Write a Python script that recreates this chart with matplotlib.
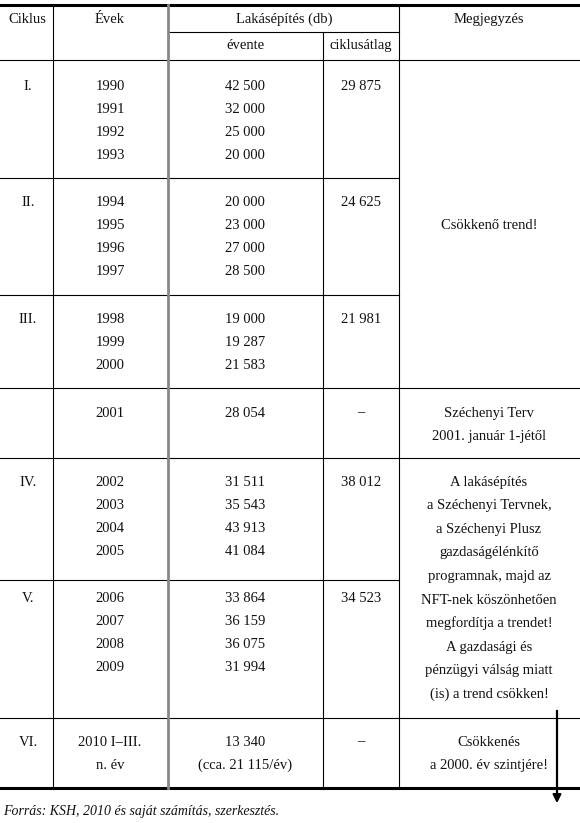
import matplotlib
matplotlib.use("Agg")
from matplotlib import pyplot as plt

plt.rcParams["font.family"] = ["Liberation Serif", "DejaVu Serif"]

cycles = ["I.", "II.", "III.", "", "IV.", "V.", "VI."]
years = [["1990", "1991", "1992", "1993"],
         ["1994", "1995", "1996", "1997"],
         ["1998", "1999", "2000"],
         ["2001"],
         ["2002", "2003", "2004", "2005"],
         ["2006", "2007", "2008", "2009"],
         ["2010 I–III.", "n. év"]]
yearly = [["42 500", "32 000", "25 000", "20 000"],
          ["20 000", "23 000", "27 000", "28 500"],
          ["19 000", "19 287", "21 583"],
          ["28 054"],
          ["31 511", "35 543", "43 913", "41 084"],
          ["33 864", "36 159", "36 075", "31 994"],
          ["13 340", "(cca. 21 115/év)"]]
averages = ["29 875", "24 625", "21 981", "–", "38 012", "34 523", "–"]
row_tops = [86, 202, 319, 413, 482, 598, 742]

notes = [(225, ["Csökkenő trend!"]),
         (413, ["Széchenyi Terv", "2001. január 1-jétől"]),
         (482, ["A lakásépítés", "a Széchenyi Tervnek,", "a Széchenyi Plusz",
                "gazdaságélénkítő", "programnak, majd az", "NFT-nek köszönhetően",
                "megfordítja a trendet!", "A gazdasági és", "pénzügyi válság miatt",
                "(is) a trend csökken!"]),
         (742, ["Csökkenés", "a 2000. év szintjére!"])]

fig = plt.figure(figsize=(5.8, 8.23), dpi=100)
ax = fig.add_axes([0, 0, 1, 1])
ax.set_xlim(0, 580)
ax.set_ylim(823, 0)
ax.axis("off")

fs = 10.5
kw = dict(fontsize=fs, va="center", ha="center", color="#111111")

# grid lines
ax.plot([0, 580], [5, 5], color="black", lw=2.2)
ax.plot([168, 399], [32, 32], color="black", lw=0.8)
ax.plot([0, 580], [60, 60], color="black", lw=0.8)
for y in [178, 295, 580]:
    ax.plot([0, 399], [y, y], color="black", lw=0.8)
for y in [388, 458, 718]:
    ax.plot([0, 580], [y, y], color="black", lw=0.8)
ax.plot([0, 580], [788, 788], color="black", lw=2.2)
ax.plot([53, 53], [5, 788], color="black", lw=0.8)
ax.plot([168, 168], [5, 788], color="#888888", lw=2.0)
ax.plot([323, 323], [32, 788], color="black", lw=0.8)
ax.plot([399, 399], [5, 788], color="black", lw=0.8)

# header
ax.text(27, 19, "Ciklus", **kw)
ax.text(110, 19, "Évek", **kw)
ax.text(284, 19, "Lakásépítés (db)", **kw)
ax.text(489, 19, "Megjegyzés", **kw)
ax.text(245, 45, "évente", **kw)
ax.text(361, 45, "ciklusátlag", **kw)

step = 23.2
for c, ys, vs, a, top in zip(cycles, years, yearly, averages, row_tops):
    ax.text(28, top, c, **kw)
    ax.text(361, top, a, **kw)
    for i, (yr, v) in enumerate(zip(ys, vs)):
        ax.text(110, top + i * step, yr, **kw)
        ax.text(245, top + i * step, v, **kw)

for top, lines in notes:
    for i, line in enumerate(lines):
        ax.text(489, top + i * 23.6, line, **kw)

ax.annotate("", xy=(557, 806), xytext=(557, 708),
            arrowprops=dict(arrowstyle="-|>", color="black", lw=1.6,
                            mutation_scale=12))

ax.text(3, 812, "Forrás: KSH, 2010 és saját számítás, szerkesztés.",
        fontsize=10, style="italic", va="center", ha="left", color="#111111")

fig.savefig("out.png", dpi=100)
